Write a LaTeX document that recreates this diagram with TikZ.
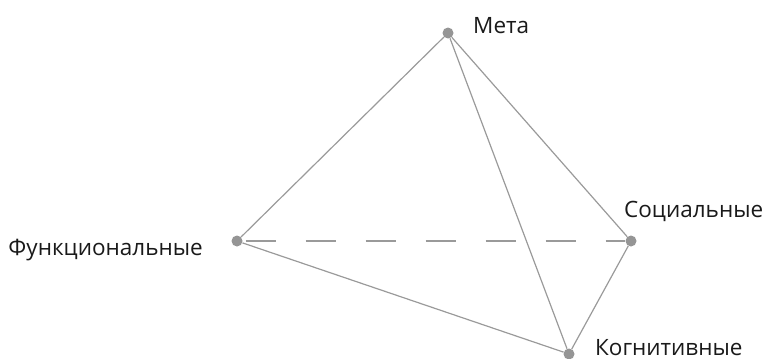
\documentclass[tikz,border=0pt]{standalone}
\usepackage{fontspec}
\setmainfont{Open Sans}
\definecolor{edgegray}{HTML}{9A9A9A}
\definecolor{dotgray}{HTML}{959595}
\definecolor{textgray}{HTML}{1A1A1A}
\begin{document}
\begin{tikzpicture}[x=1pt,y=-1pt,
  vertex/.style={circle,fill=dotgray,inner sep=0pt,minimum size=11pt},
  edge/.style={draw=edgegray,line width=1.2pt},
  dashededge/.style={draw=edgegray,line width=1.2pt,dash pattern=on 30pt off 30pt,dash phase=-3pt},
  lbl/.style={font=\fontsize{22.5}{26}\selectfont,text=textgray,inner sep=0pt}]
\useasboundingbox (0,0) rectangle (764,359);
\node[vertex] (m) at (448,33) {};
\node[vertex] (f) at (237,241) {};
\node[vertex] (s) at (631,241) {};
\node[vertex] (k) at (569,354) {};
\draw[dashededge] (f) -- (s);
\draw[edge] (m) -- (f);
\draw[edge] (m) -- (s);
\draw[edge] (m) -- (k);
\draw[edge] (f) -- (k);
\draw[edge] (s) -- (k);
\node[lbl,anchor=base west] (lm) at (473,33) {Мета};
\node[lbl,anchor=base east] (lf) at (203,255) {Функциональные};
\node[lbl,anchor=base west] (ls) at (624,217) {Социальные};
\node[lbl,anchor=base west] (lk) at (595,355) {Когнитивные};
\end{tikzpicture}
\end{document}
